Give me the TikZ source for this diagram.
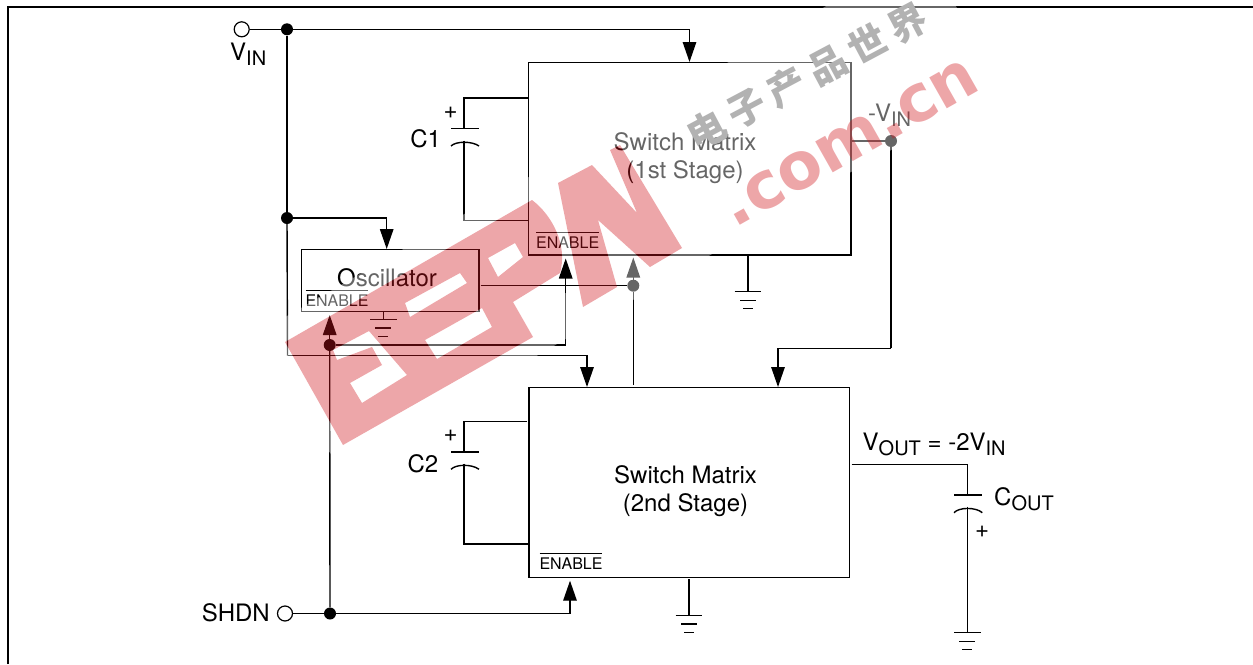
\documentclass[tikz,border=0pt]{standalone}
\usepackage{fontspec}
\setmainfont{TeX Gyre Heros}
\newfontfamily\cjk[LetterSpace=20]{Noto Sans CJK SC}
\newfontfamily\wmfont{DejaVu Sans}
\usetikzlibrary{arrows.meta}
\newcommand{\sbs}[1]{\raisebox{-5pt}{\fontsize{20}{20}\selectfont #1}}
\newcommand{\barred}[1]{\vbox{\hrule height 1pt \vskip 3.2pt \hbox{#1}}}
\definecolor{wmred}{RGB}{208,21,29}
\definecolor{wmgray}{RGB}{178,178,178}
\tikzset{
  block/.style={draw, line width=1.4pt, inner sep=0pt},
  lab/.style={inner sep=0pt, font=\fontsize{24}{28}\selectfont, align=center},
  enlab/.style={inner sep=0pt, font=\fontsize{16}{18}\selectfont},
  junction/.style={circle, fill=black, inner sep=0pt, minimum size=12pt},
  terminal/.style={circle, draw, fill=white, line width=1.2pt, inner sep=0pt, minimum size=15pt},
  wire/.style={line width=1.4pt},
  sig/.style={wire, -{Triangle[length=20pt,width=13.5pt]}},
  halo/.style={fill=white, opacity=.4, even odd rule},
  eepw/.style={fill=wmred, opacity=.38}
}
% Logo outline, px of the picture
\def\eepwpath{
  (285,342) -- (343,445) -- (533,337) -- (513,302) -- (560,273)
    .. controls (568,245) and (552,215) .. (532,200) -- cycle
  (333,350) -- (369,331) -- (407,375) -- (362,403) -- (350,383) -- (382,365) -- (372,347) -- (337,360) -- cycle
  (405,303) -- (460,273) -- (467,283) -- (410,317) -- cycle
  (425,340) -- (482,308) -- (492,327) -- (437,359) -- cycle
  (488,258) -- (515,243) -- (523,257) -- (498,277) -- cycle
  (558,183) -- (592,165) -- (637,213) -- (610,150) -- (620,145) -- (682,248) -- (650,267)
    -- (598,220) -- (617,287) -- (583,307) -- cycle
}
\begin{document}
\begin{tikzpicture}[x=1pt, y=-1pt]
  \useasboundingbox (0,0) rectangle (1253,664);
  % Frame
  \draw[line width=2pt] (7.5,664) -- (7.5,6.7) -- (1253,6.7);

  % Blocks
  \node[block, minimum width=322.7pt, minimum height=192.5pt] (box1) at (689.6,158.7) {};
  \node[block, minimum width=320.3pt, minimum height=189.6pt] (box2) at (689.2,482.5) {};
  \node[block, minimum width=177.7pt, minimum height=61.6pt] (osc) at (390.2,280.5) {};
  \node[lab] (box1txt) at (685,158.5) {Switch Matrix\\(1st Stage)};
  \node[lab] (box2txt) at (685.5,491) {Switch Matrix\\(2nd Stage)};
  \node[lab] (osctxt) at (387,278) {Oscillator};
  \node[enlab, anchor=base] (box1en) at (567.7,248) {\barred{ENABLE}};
  \node[enlab, anchor=base] (box2en) at (571,569) {\barred{ENABLE}};
  \node[enlab, anchor=base] (oscen) at (337,306) {\barred{ENABLE}};

  % Terminals and junctions
  \node[terminal] (vin) at (241.7,29.3) {};
  \node[terminal] (shdn) at (285,613.5) {};
  \node[junction] (vinj) at (287,29.3) {};
  \node[junction] (oscj) at (287,218) {};
  \node[junction] (shdnj) at (330,613.5) {};
  \node[junction] (enj) at (329.7,345) {};
  \node[junction] (clkj) at (633.3,285.7) {};
  \node[junction] (negj) at (891,141) {};

  % Labels
  \node[lab, anchor=base west] (vinlab) at (230,60) {V\sbs{IN}};
  \node[lab, anchor=base east] (shdnlab) at (270,621) {SHDN};
  \node[lab, anchor=base west] (neglab) at (868,121.5) {-V\sbs{IN}};
  \node[lab, anchor=base west] (voutlab) at (862.5,450) {V\sbs{OUT} = -2V\sbs{IN}};
  \node[lab, anchor=base west] (coutlab) at (994,505) {C\sbs{OUT}};
  \node[lab] (c1lab) at (425.7,139) {C1};
  \node[lab] (c2lab) at (423,463.5) {C2};
  \node[lab] (c1plus) at (450.7,113) {+};
  \node[lab] (c2plus) at (450.7,436) {+};
  \node[lab] (coutplus) at (982,531.5) {+};

  % Connector ends on the blocks
  \coordinate (box1top) at (689.5,62);
  \coordinate (box2vin) at (587,387);
  \coordinate (box2neg) at (778,387);
  \coordinate (osctop) at (386.7,249);
  \coordinate (oscbot) at (329.7,315);
  \coordinate (turnen) at (565.7,293);
  \coordinate (box1en1) at (565.7,258.5);
  \coordinate (box1en2) at (633.3,257.5);
  \coordinate (box2en1) at (570,580.7);
  \coordinate (clkout) at (480.5,285.7);
  \coordinate (box2clk) at (633.3,385);
  \coordinate (negout) at (851,141);
  \coordinate (turnneg) at (891,348.3);
  \coordinate (turnvin) at (287.5,355.5);

  % Signal wires
  \draw[wire] (vin) -- (vinj);
  \draw[sig] (vinj) -| (box1top);
  \draw[wire] (vinj) -- (oscj);
  \draw[wire] (oscj) -- (turnvin);
  \draw[sig] (oscj) -| (osctop);
  \draw[sig] (turnvin) -| (box2vin);
  \draw[wire] (shdn) -- (shdnj);
  \draw[sig] (shdnj) -| (box2en1);
  \draw[wire] (shdnj) -- (enj);
  \draw[sig] (enj) -- (oscbot);
  \draw[wire] (enj) -| (turnen);
  \draw[wire] (box2clk) -- (clkj);
  \draw[sig] (clkj) -- (box1en2);
  \draw[wire] (negout) -- (negj);
  \draw[wire] (negj) -- (turnneg);
  \draw[sig] (turnneg) -| (box2neg);

  % C1
  \draw[wire] (528,98) -| (464,128.3);
  \draw[wire] (451,128.3) -- (479,128.3);
  \draw[wire] (451,146) .. controls (456,141) and (472,141) .. (479,146);
  \draw[wire] (464,140.5) |- (528,220.3);
  % C2
  \draw[wire] (527,421.7) -| (464,452);
  \draw[wire] (451,452) -- (479,452);
  \draw[wire] (451,469.3) .. controls (456,464) and (472,464) .. (479,469.3);
  \draw[wire] (464,463.5) |- (529,544);
  % COUT
  \draw[wire] (851.5,464.7) -| (967.3,495);
  \draw[wire] (954,495) -- (982.3,495);
  \draw[wire] (954,512.7) .. controls (959,507) and (976,507) .. (982.3,512.7);
  \draw[wire] (967.3,506.5) -- (967.3,632.7);

  % Grounds
  \foreach \gx/\gtop/\gy in {748/255/291.7, 383.3/311/319.3, 689/579/615.3, 967.3/632.7/632.7}{
    \draw[wire] (\gx,\gtop) -- (\gx,\gy);
    \draw[wire] (\gx-13.3,\gy) -- (\gx+13.3,\gy);
    \draw[wire] (\gx-8,\gy+8.6) -- (\gx+8,\gy+8.6);
    \draw[wire] (\gx-5,\gy+17) -- (\gx+5,\gy+17);
  }

  % Watermark
  \fill[halo] (240,343) -- (828,5) -- (955,5) -- (1010,85) -- (851,172) -- (707,257)
    -- (533,358) -- (355,465) -- (340,465) -- cycle \eepwpath;
  % these two stay dark under the logo
  \draw[wire] (clkout) -- (clkj);
  \draw[sig] (turnen) -- (box1en1);
  \fill[eepw, even odd rule] \eepwpath;
  \node[inner sep=0pt, text=wmred, text opacity=.38, rotate=29.5,
    font=\wmfont\fontsize{65}{65}\selectfont\bfseries] (wmcom) at (850,143) {.com.cn};
  \node[inner sep=0pt, text=wmgray, rotate=28,
    font=\cjk\fontsize{38}{38}\selectfont\bfseries] (wmcn) at (807,76) {电子产品世界};
\end{tikzpicture}
\end{document}
